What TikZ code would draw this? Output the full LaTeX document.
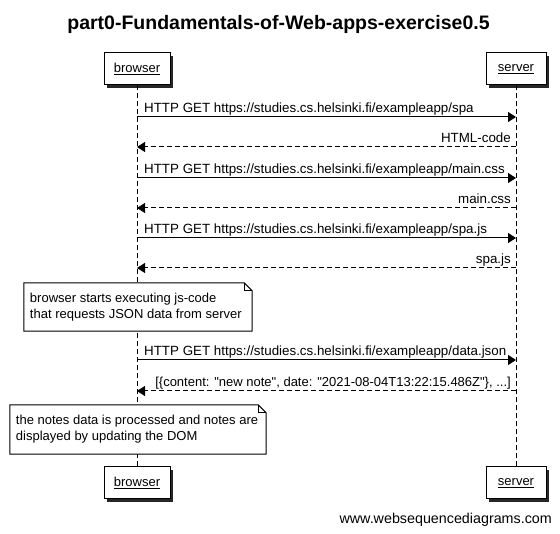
\documentclass[tikz,border=0pt]{standalone}
\usepackage{fontspec}
\setmainfont{Liberation Sans}[Ligatures=TeXOff]
\usetikzlibrary{arrows.meta,shadows}
\begin{document}
\begin{tikzpicture}[x=1pt,y=-1pt,
  actor/.style={draw, line width=1pt, fill=white, minimum height=32pt, inner sep=0pt,
    font=\fontsize{13}{15}\selectfont,
    drop shadow={shadow xshift=3pt, shadow yshift=-3pt, fill=black!85, opacity=1}},
  lifeline/.style={line width=1pt, dash pattern=on 5pt off 3pt},
  req/.style={line width=1pt, -{Triangle[length=8pt,width=10pt]}},
  resp/.style={line width=1pt, dash pattern=on 5pt off 3pt, -{Triangle[length=8pt,width=10pt]}},
  msglabel/.style={inner sep=0pt, font=\fontsize{13.35}{15}\selectfont},
  noteframe/.style={inner sep=0pt},
  notetext/.style={inner xsep=6pt, inner ysep=0pt, align=left, anchor=west, font=\fontsize{13}{16}\selectfont},
  notepath/.style={draw, line width=1pt, fill=white}
]
\useasboundingbox (0,0) rectangle (560,534);

% title
\node[inner sep=0pt, anchor=base, font=\fontsize{19.5}{22}\selectfont\bfseries] (title) at (278.5,29.5) {part0-Fundamentals-of-Web-apps-exercise0.5};

% participants
\node[actor, minimum width=66pt] (bt) at (137,69) {\underline{browser}};
\node[actor, minimum width=60pt] (st) at (516,69) {\underline{server}};
\node[actor, minimum width=66pt] (bb) at (137,483) {\underline{browser}};
\node[actor, minimum width=60pt] (sb) at (516,483) {\underline{server}};

% lifelines
\draw[lifeline] (bt.south) -- (bb.north);
\draw[lifeline] (st.south) -- (sb.north);

% message coordinates
\foreach \i/\y in {1/117,2/147,3/178,4/208,5/238,6/268,7/360,8/391}{
  \coordinate (b\i) at (137,\y);
  \coordinate (s\i) at (516,\y);
}

% messages
\draw[req] (b1) -- (s1);
\node[msglabel, anchor=base west] (m1) at (144,113) {HTTP GET https://studies.cs.helsinki.fi/exampleapp/spa};
\draw[resp] (s2) -- (b2);
\node[msglabel, anchor=base east] (m2) at (511,143) {HTML-code};
\draw[req] (b3) -- (s3);
\node[msglabel, anchor=base west] (m3) at (144,174) {HTTP GET https://studies.cs.helsinki.fi/exampleapp/main.css};
\draw[resp] (s4) -- (b4);
\node[msglabel, anchor=base east] (m4) at (511,204) {main.css};
\draw[req] (b5) -- (s5);
\node[msglabel, anchor=base west] (m5) at (144,234) {HTTP GET https://studies.cs.helsinki.fi/exampleapp/spa.js};
\draw[resp] (s6) -- (b6);
\node[msglabel, anchor=base east] (m6) at (511,264) {spa.js};

% note 1
\node[noteframe, minimum width=228pt, minimum height=48pt] (n1) at (138,307) {};
\draw[notepath] (n1.south west) -- (n1.north west) -- ([xshift=-8pt]n1.north east)
  -- ([yshift=-8pt]n1.north east) -- (n1.south east) -- cycle;
\draw[line width=1pt] ([xshift=-8pt]n1.north east) |- ([yshift=-8pt]n1.north east);
\node[notetext] (n1t) at (n1.west) {browser starts executing js-code\\that requests JSON data from server};

\draw[req] (b7) -- (s7);
\node[msglabel, anchor=base west] (m7) at (144,356) {HTTP GET https://studies.cs.helsinki.fi/exampleapp/data.json};
\draw[resp] (s8) -- (b8);
\node[msglabel, anchor=base east, font=\fontsize{13}{15}\selectfont] (m8) at (511,387) {[\{content: "new note", date: "2021-08-04T13:22:15.486Z"\}, ...]};

% note 2
\node[noteframe, minimum width=256pt, minimum height=49pt] (n2) at (138,429.5) {};
\draw[notepath] (n2.south west) -- (n2.north west) -- ([xshift=-8pt]n2.north east)
  -- ([yshift=-8pt]n2.north east) -- (n2.south east) -- cycle;
\draw[line width=1pt] ([xshift=-8pt]n2.north east) |- ([yshift=-8pt]n2.north east);
\node[notetext] (n2t) at (n2.west) {the notes data is processed and notes are\\displayed by updating the DOM};

% footer
\node[inner sep=0pt, anchor=base east, font=\fontsize{14.3}{16}\selectfont] (foot) at (552,524) {www.websequencediagrams.com};
\end{tikzpicture}
\end{document}
